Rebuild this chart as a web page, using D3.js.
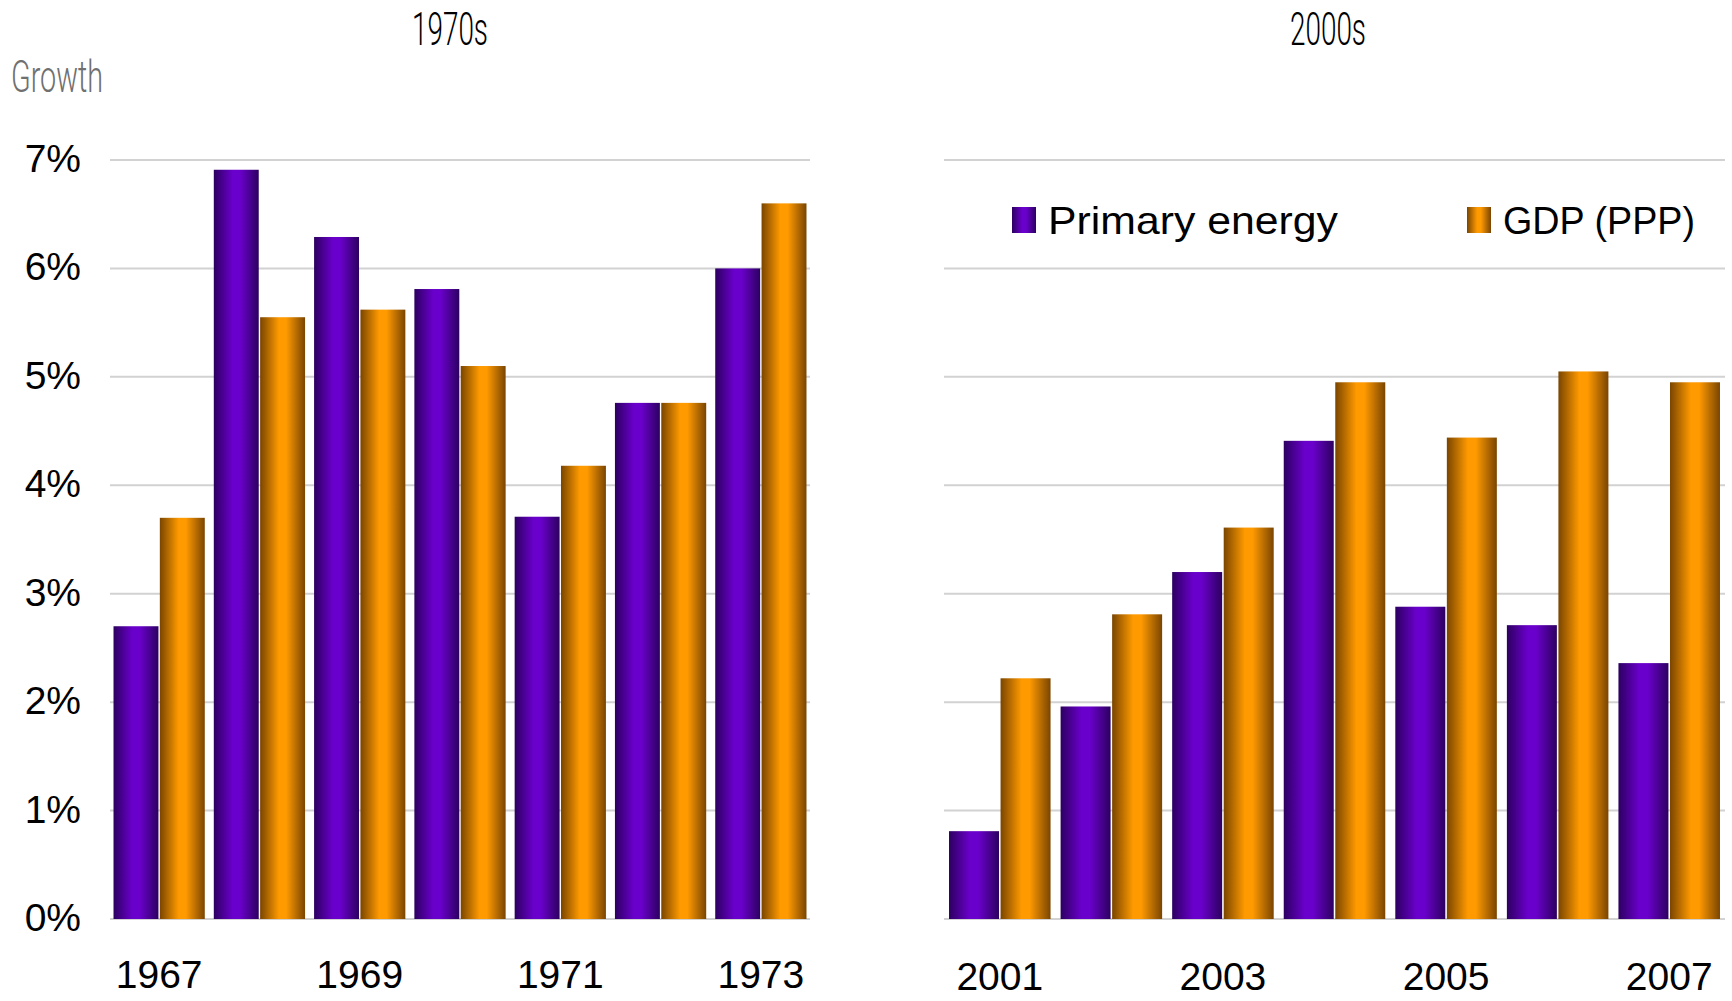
<!DOCTYPE html>
<html>
<head>
<meta charset="utf-8">
<script src="https://cdn.jsdelivr.net/npm/d3@7"></script>
<style>
    body { margin: 0; background: #fff; }
    svg { display: block; }
</style>
</head>
<body>
<div id="chart"></div>
<script>
// Data
const years70s = ["1967", "1968", "1969", "1970", "1971", "1972", "1973"];
const energy70s = [2.7, 6.91, 6.29, 5.81, 3.71, 4.76, 6.0];
const gdp70s = [3.7, 5.55, 5.62, 5.1, 4.18, 4.76, 6.6];

const years00s = ["2001", "2002", "2003", "2004", "2005", "2006", "2007"];
const energy00s = [0.81, 1.96, 3.2, 4.41, 2.88, 2.71, 2.36];
const gdp00s = [2.22, 2.81, 3.61, 4.95, 4.44, 5.05, 4.95];

const seriesNames = ["Primary energy", "GDP (PPP)"];
const yTicks = [0, 1, 2, 3, 4, 5, 6, 7];
const labelled70s = ["1967", "1969", "1971", "1973"];
const labelled00s = ["2001", "2003", "2005", "2007"];

const width = 1732;
const height = 1001;

const svg = d3.select("#chart")
    .append("svg")
    .attr("width", width)
    .attr("height", height);

// Gradients for the cylinder-ish bars
const defs = svg.append("defs");
function addGradient(id, edge, center) {
    const g = defs.append("linearGradient")
        .attr("id", id)
        .attr("x1", "0%").attr("x2", "100%")
        .attr("y1", "0%").attr("y2", "0%");
    g.append("stop").attr("offset", "0%").attr("stop-color", edge);
    g.append("stop").attr("offset", "42%").attr("stop-color", center);
    g.append("stop").attr("offset", "58%").attr("stop-color", center);
    g.append("stop").attr("offset", "100%").attr("stop-color", edge);
}
addGradient("purpleGrad", "#2c0060", "#6a00cc");
addGradient("orangeGrad", "#7a4500", "#ff9a00");
const fills = ["url(#purpleGrad)", "url(#orangeGrad)"];

const y = d3.scaleLinear()
    .domain([0, 7])
    .range([919, 160]);

// Draw one decade panel
function drawPanel(years, energy, gdp, labelled, opts) {
    const g = svg.append("g");

    const x0 = d3.scaleBand()
        .domain(years)
        .range([opts.left, opts.right])
        .paddingInner(0.09)
        .paddingOuter(opts.outer);

    const x1 = d3.scaleBand()
        .domain([0, 1])
        .range([0, x0.bandwidth()])
        .paddingInner(0.03);

    // Gridlines
    g.selectAll("line.grid")
        .data(yTicks)
        .enter()
        .append("line")
        .attr("class", "grid")
        .attr("x1", opts.left)
        .attr("x2", opts.right)
        .attr("y1", d => y(d))
        .attr("y2", d => y(d))
        .attr("stroke", "#d2d2d2")
        .attr("stroke-width", 2);

    // Bars
    const rows = years.map((yr, i) => ({ year: yr, values: [energy[i], gdp[i]] }));
    const groups = g.selectAll("g.year")
        .data(rows)
        .enter()
        .append("g")
        .attr("transform", d => `translate(${x0(d.year)},0)`);

    groups.selectAll("rect")
        .data(d => d.values.map((v, k) => ({ k: k, v: v })))
        .enter()
        .append("rect")
        .attr("x", d => x1(d.k))
        .attr("y", d => y(d.v))
        .attr("width", x1.bandwidth())
        .attr("height", d => y(0) - y(d.v))
        .attr("fill", d => fills[d.k]);

    // Year labels (every other year)
    g.selectAll("text.xlab")
        .data(labelled)
        .enter()
        .append("text")
        .attr("class", "xlab")
        .attr("x", d => x0(d) + x0.bandwidth() / 2)
        .attr("y", opts.labelY)
        .attr("text-anchor", "middle")
        .style("font-family", "'Liberation Sans', Arial, sans-serif")
        .style("font-size", "39px")
        .attr("fill", "#000")
        .text(d => d);

    // Panel title
    g.append("text")
        .attr("x", opts.titleX)
        .attr("y", 45)
        .attr("text-anchor", "middle")
        .attr("textLength", 76)
        .attr("lengthAdjust", "spacingAndGlyphs")
        .style("font-family", "Roboto, sans-serif")
        .style("font-weight", 300)
        .style("font-size", "46px")
        .attr("fill", "#000")
        .text(opts.title);
}

drawPanel(years70s, energy70s, gdp70s, labelled70s,
    { left: 110, right: 810, outer: 0.035, labelY: 988, titleX: 450, title: "1970s" });
drawPanel(years00s, energy00s, gdp00s, labelled00s,
    { left: 944, right: 1725, outer: 0.045, labelY: 990, titleX: 1328, title: "2000s" });

// Y axis labels on the left panel
svg.selectAll("text.ylab")
    .data(yTicks)
    .enter()
    .append("text")
    .attr("class", "ylab")
    .attr("x", 81)
    .attr("y", d => y(d) + 12)
    .attr("text-anchor", "end")
    .style("font-family", "'Liberation Sans', Arial, sans-serif")
    .style("font-size", "39px")
    .attr("fill", "#000")
    .text(d => d + "%");

// Axis title
svg.append("text")
    .attr("x", 11)
    .attr("y", 92)
    .attr("textLength", 92)
    .attr("lengthAdjust", "spacingAndGlyphs")
    .style("font-family", "Roboto, sans-serif")
    .style("font-weight", 300)
    .style("font-size", "44px")
    .attr("fill", "#707070")
    .text("Growth");

// Legend
const legendX = [1012, 1467];
const legendLen = [290, 192];
const legend = svg.selectAll("g.legend")
    .data(seriesNames)
    .enter()
    .append("g")
    .attr("class", "legend")
    .attr("transform", (d, i) => `translate(${legendX[i]},207)`);

legend.append("rect")
    .attr("width", 24)
    .attr("height", 26)
    .attr("fill", (d, i) => fills[i]);

legend.append("text")
    .attr("x", 36)
    .attr("y", 27)
    .attr("textLength", (d, i) => legendLen[i])
    .attr("lengthAdjust", "spacingAndGlyphs")
    .style("font-family", "'Liberation Sans', Arial, sans-serif")
    .style("font-size", "39px")
    .attr("fill", "#000")
    .text(d => d);
</script>
</body>
</html>
